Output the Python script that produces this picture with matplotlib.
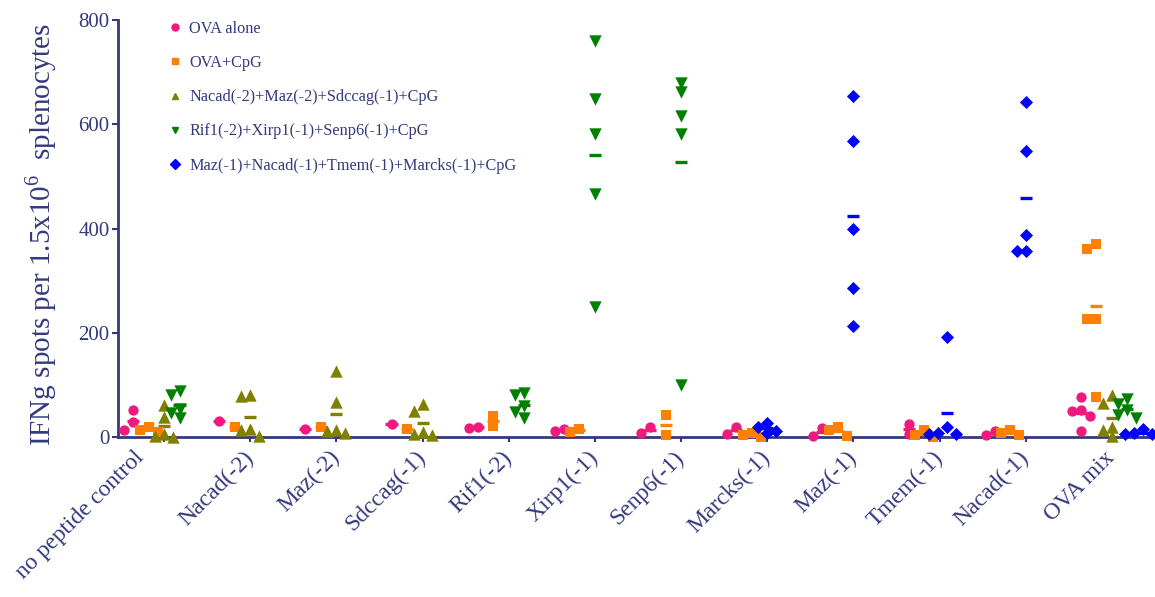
import numpy as np
import matplotlib
matplotlib.use("Agg")
import matplotlib.pyplot as plt
from matplotlib.lines import Line2D

plt.rcParams['font.family'] = ['Liberation Serif', 'DejaVu Serif']
plt.rcParams['mathtext.fontset'] = 'custom'
plt.rcParams['mathtext.rm'] = 'Liberation Serif'

NAVY = "#34397d"

categories = ["no peptide control", "Nacad(-2)", "Maz(-2)", "Sdccag(-1)", "Rif1(-2)",
              "Xirp1(-1)", "Senp6(-1)", "Marcks(-1)", "Maz(-1)", "Tmem(-1)",
              "Nacad(-1)", "OVA mix"]

group_names = ["OVA alone", "OVA+CpG", "Nacad(-2)+Maz(-2)+Sdccag(-1)+CpG",
               "Rif1(-2)+Xirp1(-1)+Senp6(-1)+CpG",
               "Maz(-1)+Nacad(-1)+Tmem(-1)+Marcks(-1)+CpG"]

# spot counts per mouse, keyed by stimulation
ova_alone = {
    "no peptide control": [52, 29, 13],
    "Nacad(-2)": [30],
    "Maz(-2)": [16],
    "Sdccag(-1)": [24],
    "Rif1(-2)": [18, 20],
    "Xirp1(-1)": [12, 16],
    "Senp6(-1)": [8, 19],
    "Marcks(-1)": [20, 5],
    "Maz(-1)": [18, 2],
    "Tmem(-1)": [24, 6],
    "Nacad(-1)": [12, 4],
    "OVA mix": [76, 52, 50, 40, 12],
}
ova_cpg = {
    "no peptide control": [20, 10, 14],
    "Nacad(-2)": [19],
    "Maz(-2)": [20],
    "Sdccag(-1)": [15],
    "Rif1(-2)": [21, 40],
    "Xirp1(-1)": [9, 16],
    "Senp6(-1)": [43, 3],
    "Marcks(-1)": [8, 0, 4],
    "Maz(-1)": [19, 2, 14],
    "Tmem(-1)": [13, 0, 3],
    "Nacad(-1)": [13, 4, 7],
    "OVA mix": [370, 360, 226, 226, 77],
}
mix_a = {
    "no peptide control": [62, 38, 6, 0, 1],
    "Nacad(-2)": [80, 78, 16, 14, 2],
    "Maz(-2)": [126, 67, 13, 8, 11],
    "Sdccag(-1)": [64, 50, 10, 3, 6],
    "OVA mix": [81, 65, 20, 13, 1],
}
mix_b = {
    "no peptide control": [88, 80, 54, 46, 36],
    "Rif1(-2)": [85, 81, 59, 48, 37],
    "Xirp1(-1)": [760, 648, 582, 466, 250],
    "Senp6(-1)": [680, 662, 616, 581, 100],
    "OVA mix": [72, 63, 52, 43, 37],
}
mix_c = {
    "Marcks(-1)": [27, 19, 12, 8],
    "Maz(-1)": [655, 568, 399, 285, 213],
    "Tmem(-1)": [192, 20, 7, 5, 5],
    "Nacad(-1)": [643, 549, 388, 356, 356],
    "OVA mix": [16, 7, 5, 5, 4],
}

series = [ova_alone, ova_cpg, mix_a, mix_b, mix_c]
colors = ["#f0197d", "#ff8000", "#808000", "#008000", "#0000ff"]
markers = ["o", "s", "^", "v", "D"]
msizes = [10, 10, 12, 12, 9]

# slot of each group inside a category (in units of SLOT)
default_slot = [-2, -1, 0, 1, 2]
slot_override = {(3, "Xirp1(-1)"): 0, (3, "Senp6(-1)"): 0,
                 (4, "Marcks(-1)"): 0, (4, "Maz(-1)"): 0,
                 (4, "Tmem(-1)"): 0.5, (4, "Nacad(-1)"): 0}
SLOT = 0.18

fig = plt.figure(figsize=(11.55, 5.97), dpi=100)
ax = fig.add_axes([118 / 1155, 160 / 597, 1037 / 1155, 417 / 597])
ax.set_xlim(-0.534, 11.5)
ax.set_ylim(0, 800)


def swarm(values, center, step_px=9.0):
    """spread overlapping points sideways, working in display pixels"""
    cx = ax.transData.transform((center, 0))[0]
    placed = []
    xs = np.zeros(len(values))
    for i in np.argsort(values)[::-1]:
        py = ax.transData.transform((center, values[i]))[1]
        for k in [0, -1, 1, -2, 2, -3, 3]:
            px = cx + k * step_px
            if all(np.hypot(px - qx, py - qy) >= step_px for qx, qy in placed):
                break
        placed.append((px, py))
        xs[i] = ax.transData.inverted().transform((px, py))[0]
    return xs


for g, data in enumerate(series):
    for cat, vals in data.items():
        ci = categories.index(cat)
        center = ci + SLOT * slot_override.get((g, cat), default_slot[g])
        vals = np.array(vals, dtype=float)
        xs = swarm(vals, center)
        ax.plot([center - 0.07, center + 0.07], [vals.mean()] * 2,
                color=colors[g], lw=2.4, solid_capstyle='butt', zorder=2)
        ax.scatter(xs, vals, marker=markers[g], s=msizes[g] ** 2 * 0.55,
                   color=colors[g], linewidths=0, zorder=3, clip_on=False)

ax.set_xticks(range(len(categories)))
# the long first label is drawn separately, shifted left of its tick
ax.set_xticklabels([""] + categories[1:], rotation=45, ha='right', va='center',
                   rotation_mode='anchor', fontsize=17, color=NAVY)
ax.annotate(categories[0], xy=(0, 0), xycoords=('data', 'axes fraction'),
            xytext=(-17, -12.5), textcoords='offset points', rotation=45,
            ha='right', va='center', rotation_mode='anchor', fontsize=17,
            color=NAVY, annotation_clip=False)

ax.set_yticks([0, 200, 400, 600, 800])
ax.tick_params(axis='y', labelsize=15, colors=NAVY, width=1.5, length=4, pad=2)
ax.tick_params(axis='x', colors=NAVY, width=1.5, length=3.5, pad=9)
ax.set_ylabel(r'IFNg spots per 1.5x10$^{\mathrm{6}}$  splenocytes', fontsize=21, color=NAVY)
ax.yaxis.set_label_coords(-0.057, 0.485)

for side in ['top', 'right']:
    ax.spines[side].set_visible(False)
for side in ['left', 'bottom']:
    ax.spines[side].set_color(NAVY)
    ax.spines[side].set_linewidth(2)

handles = [Line2D([], [], ls='none', marker=markers[g], color=colors[g], markersize=5)
           for g in range(len(group_names))]
leg = ax.legend(handles, group_names, loc='upper left', bbox_to_anchor=(0.031, 1.033),
                frameon=False, fontsize=11.7, labelspacing=1.12, handletextpad=0.3,
                handlelength=1.2)
for t in leg.get_texts():
    t.set_color(NAVY)

fig.savefig("out.png", dpi=100)
